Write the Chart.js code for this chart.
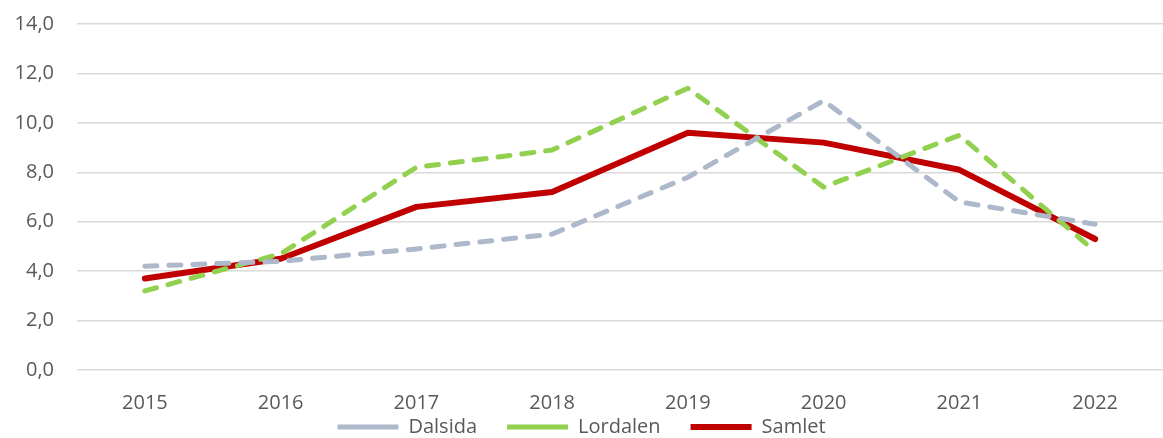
<!DOCTYPE html>
<html>
<head>
<meta charset="utf-8">
<script src="https://cdn.jsdelivr.net/npm/chart.js@4/dist/chart.umd.min.js"></script>
<style>
  html, body { margin: 0; padding: 0; background: #fff; }
  #wrap { width: 1163px; height: 438px; position: relative; }
</style>
</head>
<body>
<div id="wrap"><canvas id="myChart1"></canvas></div>
<script>
//------------------ data ------------------//
const years = ['2015', '2016', '2017', '2018', '2019', '2020', '2021', '2022']
const dalsida = [4.2, 4.4, 4.9, 5.5, 7.8, 10.9, 6.8, 5.9]
const lordalen = [3.2, 4.7, 8.2, 8.9, 11.4, 7.4, 9.5, 4.8]
const samlet = [3.7, 4.5, 6.6, 7.2, 9.6, 9.2, 8.1, 5.3]
const yMin = 0
const yMax = 14
const yStep = 2
//------------------------------------------//

const TEXT_COLOR = '#595959'
const FONT = { family: "'Open Sans', sans-serif", size: 20 }

function lineSet(label, data, color, width, dash){
    return {
        label: label,
        data: data,
        borderColor: color,
        backgroundColor: color,
        borderWidth: width,
        borderDash: dash,
        borderCapStyle: 'round',
        borderJoinStyle: 'round',
        pointRadius: 0,
        pointHoverRadius: 0,
        tension: 0,
        fill: false
    }
}

const ctx = document.getElementById('myChart1')
window.myChart = new Chart(ctx, {
    type: 'line',
    data: {
        labels: years,
        datasets: [
            lineSet('Dalsida', dalsida, '#ADB9CA', 5, [12, 12]),
            lineSet('Lordalen', lordalen, '#92D050', 5, [12, 12]),
            lineSet('Samlet', samlet, '#C00000', 6, [])
        ]
    },
    options: {
        responsive: true,
        maintainAspectRatio: false,
        animation: false,
        layout: { padding: { top: 24, right: 0, bottom: 0, left: 0 } },
        plugins: {
            tooltip: { enabled: false },
            legend: {
                position: 'bottom',
                maxHeight: 51,
                labels: {
                    usePointStyle: true,
                    pointStyle: 'line',
                    pointStyleWidth: 61,
                    padding: 30,
                    color: TEXT_COLOR,
                    font: FONT
                }
            }
        },
        scales: {
            x: {
                offset: true,
                grid: { display: false, drawTicks: false },
                border: { display: false },
                ticks: { color: TEXT_COLOR, font: FONT, padding: 21, maxRotation: 0 },
                afterFit: function(scale){
                    // 軸の高さを詰めて凡例と重ねる（ラベルはクリップしない）
                    scale.height = 17
                    scale._computeLabelArea = function(){ return undefined }
                }
            },
            y: {
                min: yMin,
                max: yMax,
                // 目盛り線は透明にして、ラベルとの間隔だけに使う
                grid: { color: '#D9D9D9', lineWidth: 1.5, drawTicks: true, tickLength: 23, tickColor: 'rgba(0,0,0,0)' },
                border: { display: false },
                ticks: {
                    stepSize: yStep,
                    color: TEXT_COLOR,
                    font: FONT,
                    padding: 0,
                    callback: function(v){ return v.toFixed(1).replace('.', ',') }
                },
                afterFit: function(scale){ scale.width = 77 }
            }
        }
    }
})
</script>
</body>
</html>
